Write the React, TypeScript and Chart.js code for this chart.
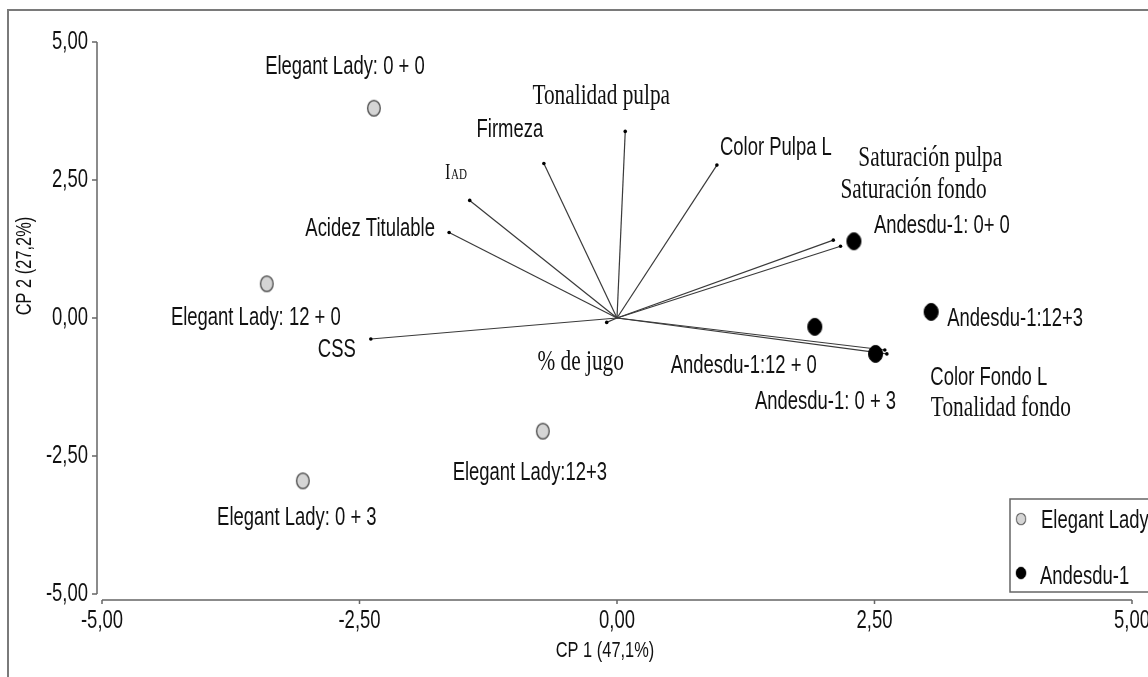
import React, { useEffect, useRef } from 'react';
import { Chart, registerables } from 'chart.js';

Chart.register(...registerables);

// ---------------- data ----------------
const seriesNames = ['Elegant Lady', 'Andesdu-1'];

const elegantLabels = ['Elegant Lady: 0 + 0', 'Elegant Lady: 12 + 0', 'Elegant Lady: 0 + 3', 'Elegant Lady:12+3'];
const elegantX = [-2.36, -3.4, -3.05, -0.72];
const elegantY = [3.8, 0.62, -2.95, -2.05];

const andesLabels = ['Andesdu-1: 0+ 0', 'Andesdu-1:12+3', 'Andesdu-1:12 + 0', 'Andesdu-1: 0 + 3'];
const andesX = [2.3, 3.05, 1.92, 2.51];
const andesY = [1.39, 0.11, -0.16, -0.65];

const variableNames = [
  'Tonalidad pulpa',
  'Firmeza',
  'IAD',
  'Acidez Titulable',
  'Color Pulpa L',
  'Saturación pulpa',
  'Saturación fondo',
  'Color Fondo L',
  'Tonalidad fondo',
  'CSS',
  '% de jugo',
];
const loadingX = [0.08, -0.71, -1.43, -1.63, 0.97, 2.1, 2.17, 2.6, 2.62, -2.39, -0.1];
const loadingY = [3.38, 2.8, 2.13, 1.55, 2.77, 1.41, 1.3, -0.58, -0.65, -0.38, -0.08];

const tickValues = [-5, -2.5, 0, 2.5, 5];
const xTitle = 'CP 1 (47,1%)';
const yTitle = 'CP 2 (27,2%)';

// ---------------- label layout (pixel offsets from the mark) ----------------
const elegantLabelOffsets = [[-29, -41], [-11, 34], [-6, 37], [-13, 42]];
const andesLabelOffsets = [[88, -15], [84, 7], [-71, 39], [-50, 48]];
const variableLabelOffsets = [
  [-24, -35], [-34, -33], [-14, -27], [-79, -3], [59, -17], [97, -82],
  [73, -56], [104, 28], [114, 54], [-34, 11], [-26, 40],
];
const serifVariables = ['Tonalidad pulpa', 'IAD', 'Saturación pulpa', 'Saturación fondo', 'Tonalidad fondo', '% de jugo'];

const TEXT = '#111111';
const AXIS = '#666666';

function fmt(v: number) {
  return v.toFixed(2).replace('.', ',');
}

function hasFont(name: string): boolean {
  const c = document.createElement('canvas').getContext('2d');
  if (!c) return false;
  const s = 'Elegant Lady 0123456789';
  c.font = '40px monospace';
  const a = c.measureText(s).width;
  c.font = `40px '${name}', monospace`;
  const b = c.measureText(s).width;
  return Math.abs(a - b) > 0.5;
}

function ellipseMarker(w: number, h: number, fill: string, stroke: string, lw: number) {
  const c = document.createElement('canvas');
  c.width = w + 2;
  c.height = h + 2;
  const g = c.getContext('2d')!;
  g.beginPath();
  g.ellipse(c.width / 2, c.height / 2, w / 2 - lw / 2, h / 2 - lw / 2, 0, 0, Math.PI * 2);
  g.fillStyle = fill;
  g.fill();
  g.lineWidth = lw;
  g.strokeStyle = stroke;
  g.stroke();
  return c;
}

export default function App() {
  const ref = useRef<HTMLCanvasElement | null>(null);

  useEffect(() => {
    if (!ref.current) return;
    const narrow = hasFont('Liberation Sans Narrow');
    const SANS = narrow ? "'Liberation Sans Narrow', 'Liberation Sans', sans-serif" : "'Liberation Sans', Arial, sans-serif";
    const SANS_SX = narrow ? 1 : 0.82;
    const SERIF = "'Liberation Serif', 'Times New Roman', serif";
    const SERIF_SX = 0.82;
    const SY = 1.12; // glyphs in the reference are slightly stretched vertically

    const text = (
      ctx: CanvasRenderingContext2D,
      s: string,
      x: number,
      y: number,
      opts: { serif?: boolean; size?: number; align?: CanvasTextAlign; rot?: number; baseline?: CanvasTextBaseline } = {}
    ) => {
      const size = opts.size ?? 22.5;
      ctx.save();
      ctx.translate(x, y);
      if (opts.rot) ctx.rotate(opts.rot);
      if (opts.rot) ctx.scale(opts.serif ? SERIF_SX : SANS_SX, 1.08);
      else ctx.scale(opts.serif ? SERIF_SX : SANS_SX, SY);
      ctx.font = `${size}px ${opts.serif ? SERIF : SANS}`;
      ctx.textAlign = opts.align ?? 'center';
      ctx.textBaseline = opts.baseline ?? 'middle';
      ctx.fillStyle = TEXT;
      ctx.fillText(s, 0, 0);
      ctx.restore();
    };

    const greyMarker = ellipseMarker(14, 17, '#d5d5d5', '#555555', 1.4);
    const blackMarker = ellipseMarker(15, 18, '#000000', '#000000', 1);

    const overlay = {
      id: 'overlay',
      beforeDraw(chart: any) {
        const c = chart.ctx;
        c.save();
        c.fillStyle = '#ffffff';
        c.fillRect(0, 0, chart.width, chart.height);
        c.restore();
      },
      afterDraw(chart: any) {
        const ctx: CanvasRenderingContext2D = chart.ctx;
        const xs = chart.scales.x;
        const ys = chart.scales.y;
        const area = chart.chartArea;

        // outer frame (top + left)
        ctx.save();
        ctx.strokeStyle = '#7a7a7a';
        ctx.lineWidth = 2;
        ctx.beginPath();
        ctx.moveTo(8, chart.height);
        ctx.lineTo(8, 10);
        ctx.lineTo(chart.width, 10);
        ctx.stroke();

        // axes (detached)
        ctx.strokeStyle = AXIS;
        ctx.lineWidth = 1.5;
        const yAxisX = area.left - 5;
        const xAxisY = area.bottom + 6;
        ctx.beginPath();
        ctx.moveTo(yAxisX, ys.getPixelForValue(tickValues[tickValues.length - 1]));
        ctx.lineTo(yAxisX, ys.getPixelForValue(tickValues[0]));
        tickValues.forEach((v) => {
          const py = ys.getPixelForValue(v);
          ctx.moveTo(yAxisX - 5, py);
          ctx.lineTo(yAxisX, py);
        });
        ctx.moveTo(xs.getPixelForValue(tickValues[0]), xAxisY);
        ctx.lineTo(xs.getPixelForValue(tickValues[tickValues.length - 1]), xAxisY);
        tickValues.forEach((v) => {
          const px = xs.getPixelForValue(v);
          ctx.moveTo(px, xAxisY);
          ctx.lineTo(px, xAxisY + 4);
        });
        ctx.stroke();
        ctx.restore();

        tickValues.forEach((v) => {
          text(ctx, fmt(v), yAxisX - 9, ys.getPixelForValue(v), { align: 'right' });
          text(ctx, fmt(v), xs.getPixelForValue(v), xAxisY + 21);
        });

        // axis titles
        text(ctx, xTitle, (area.left + area.right) / 2 - 12, xAxisY + 51, { size: 20 });
        text(ctx, yTitle, 25, (area.top + area.bottom) / 2 - 52, { size: 20, rot: -Math.PI / 2 });

        // point labels
        elegantLabels.forEach((s, i) => {
          const px = xs.getPixelForValue(elegantX[i]);
          const py = ys.getPixelForValue(elegantY[i]);
          text(ctx, s, px + elegantLabelOffsets[i][0], py + elegantLabelOffsets[i][1]);
        });
        andesLabels.forEach((s, i) => {
          const px = xs.getPixelForValue(andesX[i]);
          const py = ys.getPixelForValue(andesY[i]);
          text(ctx, s, px + andesLabelOffsets[i][0], py + andesLabelOffsets[i][1]);
        });

        // variable labels
        variableNames.forEach((s, i) => {
          const px = xs.getPixelForValue(loadingX[i]) + variableLabelOffsets[i][0];
          const py = ys.getPixelForValue(loadingY[i]) + variableLabelOffsets[i][1];
          const serif = serifVariables.includes(s);
          if (s === 'IAD') {
            // I with subscript AD
            ctx.save();
            ctx.font = `20px ${SERIF}`;
            const w1 = ctx.measureText('I').width * SERIF_SX;
            ctx.font = `13.5px ${SERIF}`;
            const w2 = ctx.measureText('AD').width * SERIF_SX;
            ctx.restore();
            const left = px - (w1 + w2) / 2;
            const base = py + 6;
            text(ctx, 'I', left, base, { serif: true, size: 20, align: 'left', baseline: 'alphabetic' });
            text(ctx, 'AD', left + w1 + 0.5, base, { serif: true, size: 13.5, align: 'left', baseline: 'alphabetic' });
          } else {
            text(ctx, s, px, py, { serif, size: serif ? 26 : 22.5 });
          }
        });

        // legend
        const lx = area.right - 122;
        const ly = area.bottom - 95;
        ctx.save();
        ctx.strokeStyle = AXIS;
        ctx.lineWidth = 1.5;
        ctx.strokeRect(lx, ly, chart.width - lx + 10, 93);
        ctx.drawImage(greyMarker, lx + 11 - 6, ly + 20 - 7, 12, 14);
        ctx.drawImage(blackMarker, lx + 11 - 6, ly + 74 - 7, 12, 14);
        ctx.restore();
        text(ctx, seriesNames[0], lx + 31, ly + 22, { align: 'left' });
        text(ctx, seriesNames[1], lx + 30, ly + 78, { align: 'left' });
      },
    };

    const datasets: any[] = [
      {
        label: seriesNames[0],
        data: elegantX.map((x, i) => ({ x, y: elegantY[i] })),
        pointStyle: greyMarker,
        pointRadius: 8,
        pointHoverRadius: 8,
        showLine: false,
      },
      {
        label: seriesNames[1],
        data: andesX.map((x, i) => ({ x, y: andesY[i] })),
        pointStyle: blackMarker,
        pointRadius: 8,
        pointHoverRadius: 8,
        showLine: false,
      },
      ...variableNames.map((n, i) => ({
        label: n,
        data: [
          { x: 0, y: 0 },
          { x: loadingX[i], y: loadingY[i] },
        ],
        showLine: true,
        borderColor: '#3a3a3a',
        borderWidth: 1.2,
        pointRadius: [0, 1.8],
        pointHoverRadius: [0, 1.8],
        pointBackgroundColor: '#000000',
        pointBorderColor: '#000000',
        pointBorderWidth: 0,
        fill: false,
      })),
    ];

    const chart = new Chart(ref.current, {
      type: 'scatter',
      data: { datasets },
      options: {
        responsive: false,
        animation: false,
        devicePixelRatio: 1,
        layout: { padding: { left: 102, right: 16, top: 42, bottom: 83 } },
        scales: {
          x: { type: 'linear', min: -5, max: 5, display: false },
          y: { type: 'linear', min: -5, max: 5, display: false },
        },
        plugins: {
          legend: { display: false },
          tooltip: { enabled: false },
        },
      },
      plugins: [overlay],
    });

    return () => chart.destroy();
  }, []);

  return (
    <div style={{ position: 'fixed', left: 0, top: 0, width: 1148, height: 677, background: '#fff' }}>
      <canvas ref={ref} width={1148} height={677} style={{ display: 'block' }} />
    </div>
  );
}
